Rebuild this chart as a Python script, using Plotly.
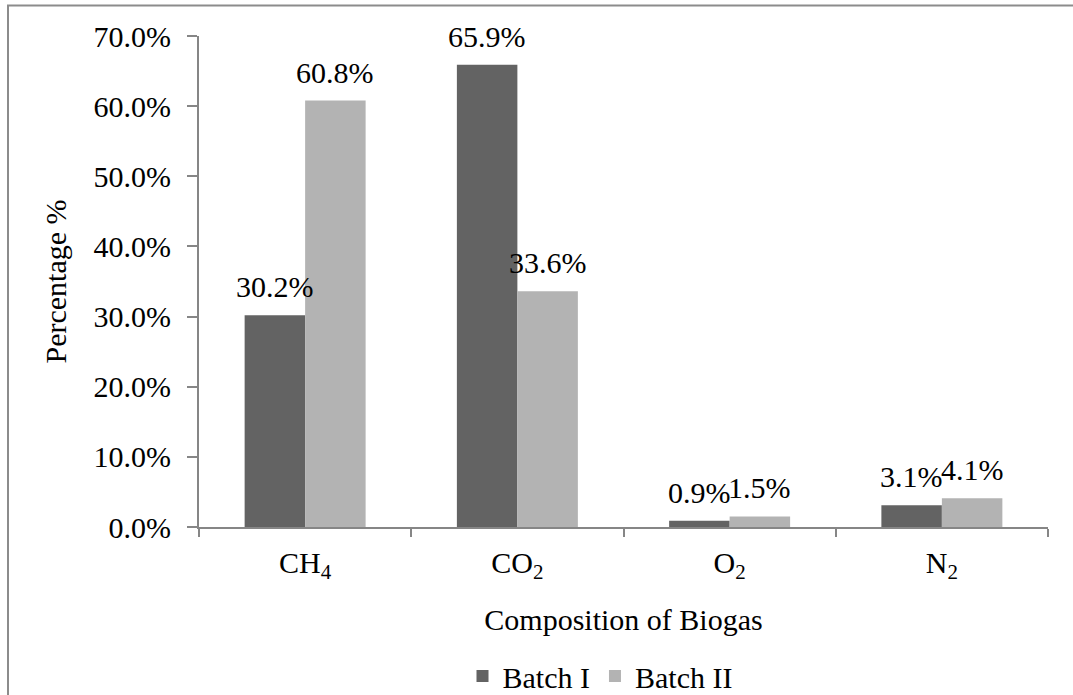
import plotly.graph_objects as go

categories = ["CH<sub>4</sub>", "CO<sub>2</sub>", "O<sub>2</sub>", "N<sub>2</sub>"]
batch1 = [30.2, 65.9, 0.9, 3.1]
batch2 = [60.8, 33.6, 1.5, 4.1]
series_names = ["Batch I", "Batch II"]
y_ticks = [0, 10, 20, 30, 40, 50, 60, 70]

FONT = "Liberation Serif"
FS = 30
W, H = 1073, 695
L, R, T, B = 199, 25, 36, 168
PW, PH = W - L - R, H - T - B
BARGAP = 0.43

def px_x(p):
    return (p - L) / PW

def px_y(p):
    return (H - B - p) / PH

fig = go.Figure()
series = [(series_names[0], batch1, "#636363"), (series_names[1], batch2, "#b3b3b3")]
for name, vals, col in series:
    fig.add_trace(go.Bar(
        x=categories, y=vals, name=name,
        marker=dict(color=col, line=dict(width=0)),
        cliponaxis=False,
    ))

# data labels above each bar
cat_px = PW / len(categories)
bar_px = cat_px * (1 - BARGAP) / len(series)
for si, (name, vals, col) in enumerate(series):
    offset = (si - (len(series) - 1) / 2) * bar_px
    for c, v in zip(categories, vals):
        fig.add_annotation(x=c, y=v, text=f"{v:.1f}%", showarrow=False,
                           xshift=offset, yshift=10, yanchor="bottom",
                           font=dict(family=FONT, size=FS, color="black"))

fig.update_layout(
    width=W, height=H,
    margin=dict(l=L, r=R, t=T, b=B, autoexpand=False),
    paper_bgcolor="white", plot_bgcolor="white",
    barmode="group", bargap=BARGAP, bargroupgap=0,
    font=dict(family=FONT, size=FS, color="black"),
    showlegend=True,
    legend=dict(orientation="h", x=px_x(600), xanchor="center", y=px_y(676), yanchor="middle",
                font=dict(family=FONT, size=FS), itemwidth=30, traceorder="normal",
                bgcolor="rgba(0,0,0,0)"),
)
fig.update_xaxes(
    showline=True, linecolor="#868686", linewidth=2,
    ticks="outside", tickson="boundaries", ticklen=8, tickcolor="#868686", tickwidth=2,
    showgrid=False, tickfont=dict(family=FONT, size=FS), ticklabelstandoff=8,
    title=dict(text="Composition of Biogas", font=dict(family=FONT, size=FS), standoff=26),
)
fig.update_yaxes(
    range=[0, 70], tickvals=y_ticks, ticktext=[f"{v:.1f}%" for v in y_ticks],
    showline=True, linecolor="#868686", linewidth=2,
    ticks="outside", ticklen=10, tickcolor="#868686", tickwidth=2,
    showgrid=False, zeroline=False, tickfont=dict(family=FONT, size=FS),
    ticklabelstandoff=10,
    title=dict(text="Percentage %", font=dict(family=FONT, size=FS), standoff=18),
)
fig.add_shape(type="rect", xref="paper", yref="paper",
              x0=px_x(8), x1=px_x(1090), y0=px_y(720), y1=px_y(5.5),
              line=dict(color="#8c8c8c", width=2), fillcolor="rgba(0,0,0,0)", layer="below")

fig.write_html("out.html")
